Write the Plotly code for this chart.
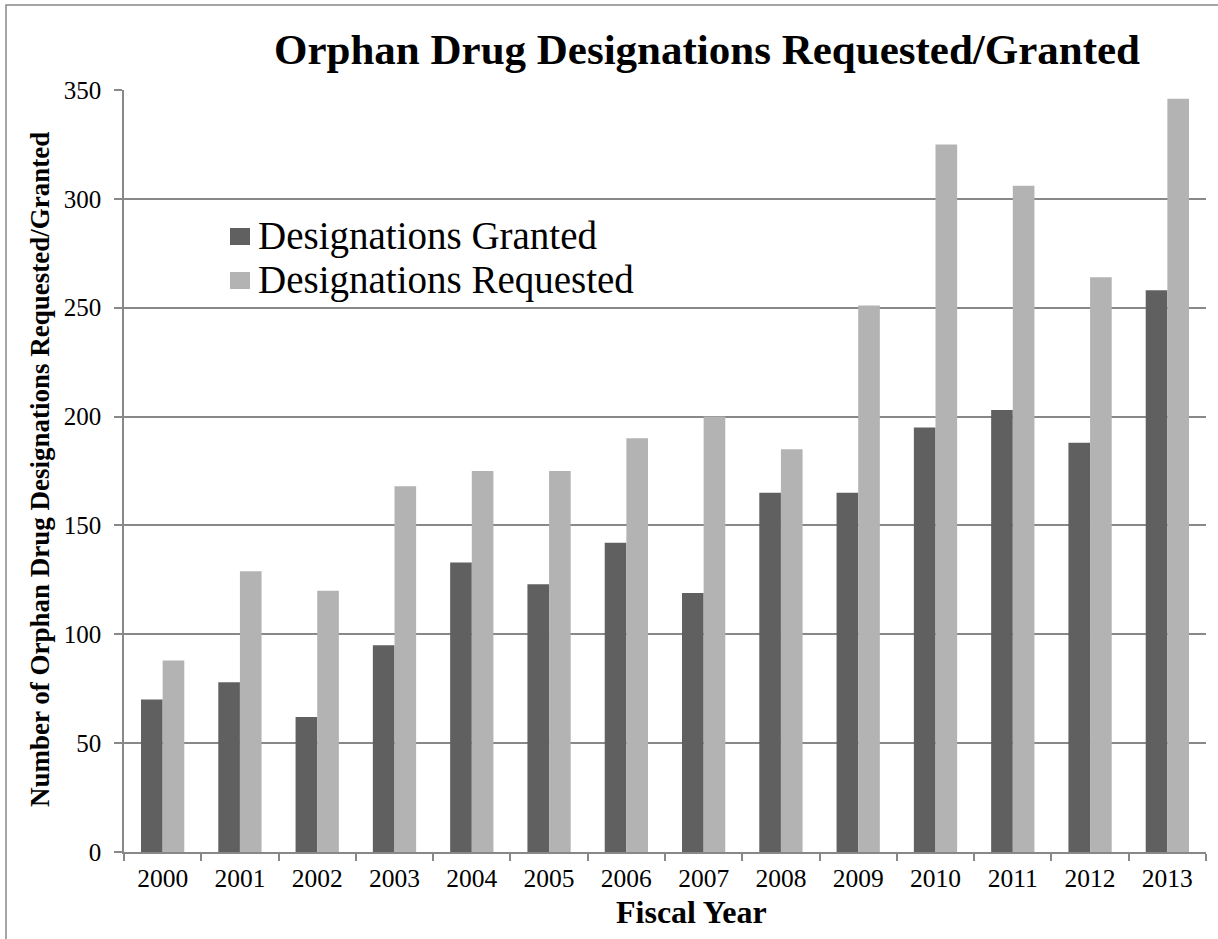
import plotly.graph_objects as go

years = ["2000", "2001", "2002", "2003", "2004", "2005", "2006",
         "2007", "2008", "2009", "2010", "2011", "2012", "2013"]
granted = [70, 78, 62, 95, 133, 123, 142, 119, 165, 165, 195, 203, 188, 258]
requested = [88, 129, 120, 168, 175, 175, 190, 200, 185, 251, 325, 306, 264, 346]
series_names = ["Designations Granted", "Designations Requested"]
series_colors = ["#606060", "#b3b3b3"]

FONT = "Liberation Serif, Times New Roman, serif"
W, H = 1218, 939
L, R, T, B = 124, 12, 90, 87
PW, PH = W - L - R, H - T - B


def px(x):
    return (x - L) / PW


def py(y):
    return (H - B - y) / PH


fig = go.Figure()
for vals, name, col in zip([granted, requested], series_names, series_colors):
    fig.add_trace(go.Bar(x=years, y=vals, name=name, showlegend=False,
                         marker=dict(color=col, line=dict(width=0))))

fig.update_layout(
    width=W, height=H,
    margin=dict(l=L, r=R, t=T, b=B),
    paper_bgcolor="white", plot_bgcolor="white",
    barmode="group", bargap=0.44, bargroupgap=0,
    font=dict(family=FONT, color="black", size=25),
    title=dict(text="<b>Orphan Drug Designations Requested/Granted</b>",
               font=dict(family=FONT, size=43, color="black"),
               x=707 / W, xanchor="center", y=1 - 49 / H, yanchor="middle"),
    xaxis=dict(
        type="category", tickson="boundaries", ticks="outside", ticklen=7,
        tickcolor="#888888", tickwidth=1.5,
        showline=True, linecolor="#888888", linewidth=1.5,
        tickfont=dict(family=FONT, size=25.5, color="black"),
        ticklabelstandoff=3,
    ),
    yaxis=dict(
        range=[0, 350], dtick=50, ticks="outside", ticklen=8,
        tickcolor="#888888", tickwidth=1.5,
        showline=True, linecolor="#888888", linewidth=1.5,
        showgrid=True, gridcolor="#888888", gridwidth=1.5,
        zeroline=False,
        tickfont=dict(family=FONT, size=25, color="black"),
        ticklabelstandoff=8,
    ),
)

# axis titles
fig.add_annotation(text="<b>Fiscal Year</b>", xref="paper", yref="paper",
                   x=px(691), y=py(912), xanchor="center", yanchor="middle",
                   showarrow=False, font=dict(family=FONT, size=32, color="black"))
fig.add_annotation(text="<b>Number of Orphan Drug Designations Requested/Granted</b>",
                   xref="paper", yref="paper", textangle=-90,
                   x=px(40), y=py(470), xanchor="center", yanchor="middle",
                   showarrow=False, font=dict(family=FONT, size=27, color="black"))

# legend (keys + labels)
for i, (name, col) in enumerate(zip(series_names, series_colors)):
    cy = 236 + i * 44
    fig.add_shape(type="rect", xref="paper", yref="paper",
                  x0=px(230), x1=px(250), y0=py(cy + 9), y1=py(cy - 8),
                  fillcolor=col, line=dict(width=0))
    fig.add_annotation(text=name, xref="paper", yref="paper",
                       x=px(256), y=py(cy), xanchor="left", yanchor="middle",
                       showarrow=False, font=dict(family=FONT, size=39, color="black"))

# chart border
fig.add_shape(type="rect", xref="paper", yref="paper",
              x0=px(6), x1=px(1240), y0=py(960), y1=py(5),
              line=dict(color="#888888", width=1.5), fillcolor="rgba(0,0,0,0)", layer="below")

fig.write_html("out.html")
